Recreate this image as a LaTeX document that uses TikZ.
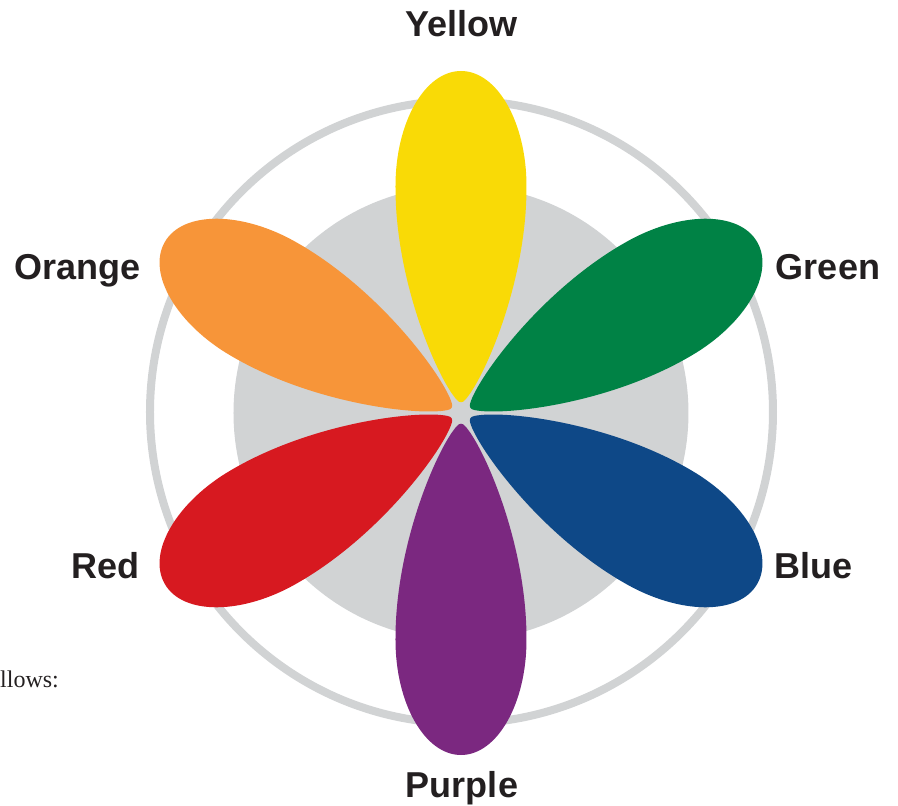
\documentclass[tikz,border=0pt]{standalone}
\usepackage{xcolor}
\usepackage{fontspec}
\setmainfont{Liberation Serif}
\newfontfamily\wheelfont{Liberation Sans}
\usepackage{tikz}

\begin{document}
\begin{tikzpicture}[x=1pt,y=1pt,
  wlabel/.style={font=\wheelfont\bfseries\fontsize{36}{40}\selectfont,text=wdark,anchor=base,inner sep=0pt}]
  \definecolor{wgray}{RGB}{209,211,212}
  \definecolor{wdark}{RGB}{35,31,32}
  \definecolor{wyellow}{RGB}{249,218,6}
  \definecolor{wgreen}{RGB}{0,130,69}
  \definecolor{wblue}{RGB}{14,72,135}
  \definecolor{wpurple}{RGB}{123,40,128}
  \definecolor{wred}{RGB}{215,25,32}
  \definecolor{worange}{RGB}{247,149,57}
  \useasboundingbox (-461,-393) rectangle (437,413);
  \draw[wgray,line width=8pt] (0.5,1) circle (311.5);
  \fill[wgray] (0,0) circle (227.5);
  \foreach \ang/\col in {90/wyellow,30/wgreen,-30/wblue,-90/wpurple,210/wred,150/worange}
    \fill[\col,rotate=\ang] (13,-4) .. controls (10,-1.5) and (10,1.5) .. (13,4)
      .. controls (32,22) and (130,66) .. (227,65.5)
      .. controls (290.5,65.5) and (342,36.2) .. (342,0)
      .. controls (342,-36.2) and (290.5,-65.5) .. (227,-65.5)
      .. controls (130,-66) and (32,-22) .. (13,-4) -- cycle;
  \node (yellow) [wlabel] at (0.5,376) {Yellow};
  \node (green) [wlabel] at (367,133) {Green};
  \node (blue) [wlabel] at (353,-166) {Blue};
  \node (purple) [wlabel] at (1,-384) {Purple};
  \node (red) [wlabel] at (-355.5,-166) {Red};
  \node (orange) [wlabel] at (-383.5,133) {Orange};
  \node (follows) [font=\fontsize{24}{28}\selectfont,text=wdark,anchor=base west,inner sep=0pt] at (-461,-274) {llows:};
\end{tikzpicture}
\end{document}
